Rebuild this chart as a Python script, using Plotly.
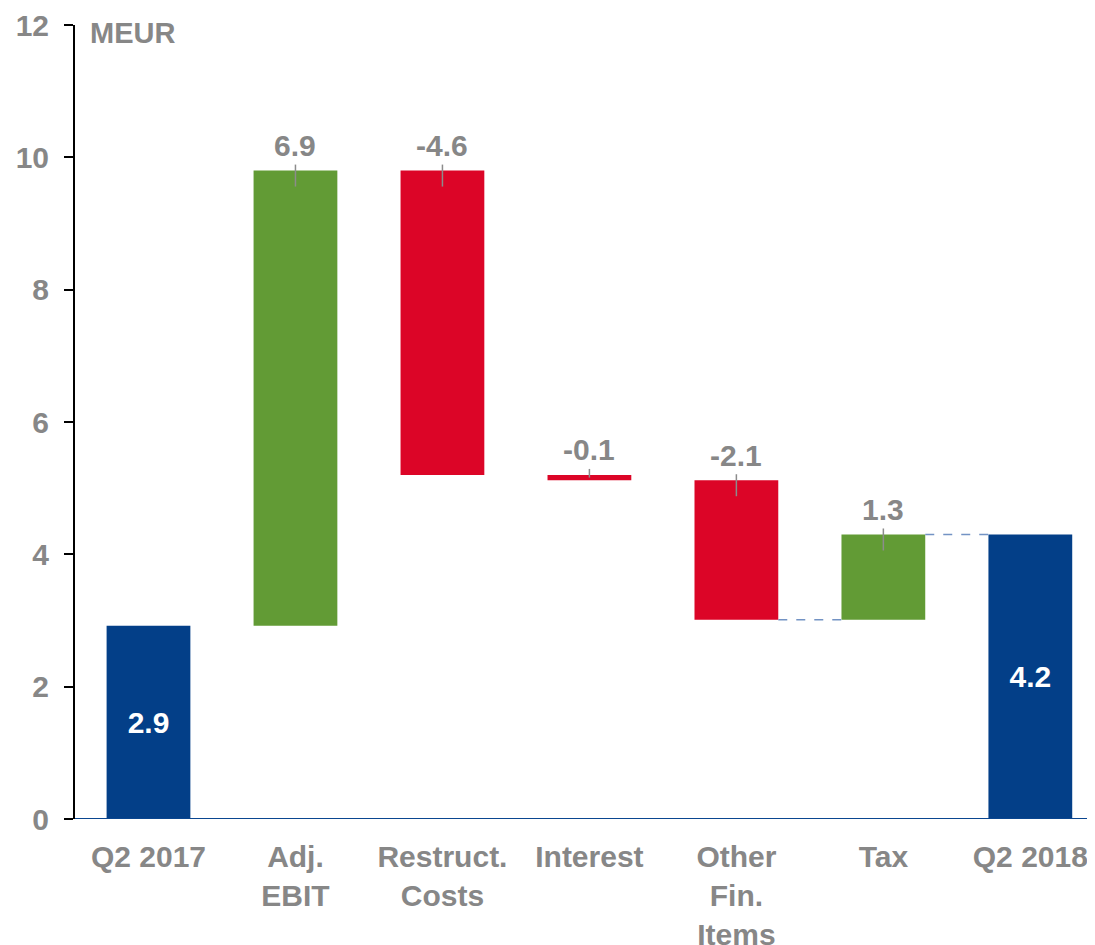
import plotly.graph_objects as go

categories = ["Q2 2017", "Adj.<br>EBIT", "Restruct.<br>Costs", "Interest", "Other<br>Fin.<br>Items", "Tax", "Q2 2018"]
bar_values = [2.92, 6.88, -4.60, -0.08, -2.11, 1.29, 4.30]
kinds = ["total", "delta", "delta", "delta", "delta", "delta", "total"]
label_texts = ["2.9", "6.9", "-4.6", "-0.1", "-2.1", "1.3", "4.2"]
connector_after = [4, 5]
y_ticks = [0, 2, 4, 6, 8, 10, 12]

BLUE = "#033f88"
GREEN = "#629b35"
RED = "#dc0527"
GRAY = "#878787"
FONT = "Liberation Sans, Arial, sans-serif"

bases, heights, colors, ends = [], [], [], []
running = 0.0
for v, k in zip(bar_values, kinds):
    if k == "total":
        bases.append(0.0)
        heights.append(v)
        colors.append(BLUE)
        running = v
    else:
        start = running
        end = running + v
        bases.append(min(start, end))
        heights.append(abs(v))
        colors.append(GREEN if v >= 0 else RED)
        running = end
    ends.append(running)

x_idx = list(range(len(categories)))
bar_w = 0.57

fig = go.Figure()
fig.add_trace(go.Bar(
    x=x_idx, y=heights, base=bases, width=bar_w,
    marker=dict(color=colors, line=dict(width=0)),
    text=[t if k == "total" else "" for t, k in zip(label_texts, kinds)],
    textposition="inside", insidetextanchor="middle",
    textfont=dict(family=FONT, size=30, color="white", weight="bold"),
    textangle=0, hoverinfo="skip", showlegend=False,
))

shapes = []
annotations = []
px_per_unit = 66.2
for i, (k, b, h, t) in enumerate(zip(kinds, bases, heights, label_texts)):
    if k != "delta":
        continue
    top = b + h
    annotations.append(dict(x=i, y=top, xref="x", yref="y", text=t, showarrow=False,
                            yanchor="middle", yshift=25,
                            font=dict(family=FONT, size=30, color=GRAY, weight="bold")))
    below = min(16, h * px_per_unit / 2)
    shapes.append(dict(type="line", xref="x", yref="y", ysizemode="pixel", yanchor=top,
                       x0=i, x1=i, y0=6, y1=-below, line=dict(color="#8c8c8c", width=1.5)))

for i in connector_after:
    shapes.append(dict(type="line", xref="x", yref="y",
                       x0=i + bar_w / 2, x1=i + 1 - bar_w / 2, y0=ends[i], y1=ends[i],
                       line=dict(color="#7393c4", width=1.5, dash="dash")))

# x axis baseline
shapes.append(dict(type="line", xref="paper", yref="y", x0=0, x1=1, y0=0, y1=0,
                   line=dict(color="#0a4690", width=2)))

annotations.append(dict(x=0, y=12, xref="paper", yref="y", text="MEUR", showarrow=False,
                        xanchor="left", yanchor="middle", xshift=13, yshift=-8,
                        font=dict(family=FONT, size=29, color=GRAY, weight="bold")))

fig.update_layout(
    width=1087, height=937,
    margin=dict(l=67, r=0, t=17, b=126, autoexpand=False),
    paper_bgcolor="white", plot_bgcolor="white",
    shapes=shapes, annotations=annotations,
    bargap=0.43,
    xaxis=dict(range=[-0.5, 6.44], tickvals=x_idx, ticktext=categories,
               showgrid=False, zeroline=False, showline=False, ticks="",
               automargin=False,
               tickfont=dict(family=FONT, size=30, color=GRAY, weight="bold"),
               ticklabelstandoff=17),
    yaxis=dict(range=[0, 12], tickvals=y_ticks, showgrid=False, zeroline=False,
               showline=True, linecolor="black", linewidth=2, automargin=False,
               ticks="outside", ticklen=9, tickwidth=2, tickcolor="black",
               tickfont=dict(family=FONT, size=30, color=GRAY, weight="bold"),
               ticklabelstandoff=9),
)

fig.write_html("out.html")
